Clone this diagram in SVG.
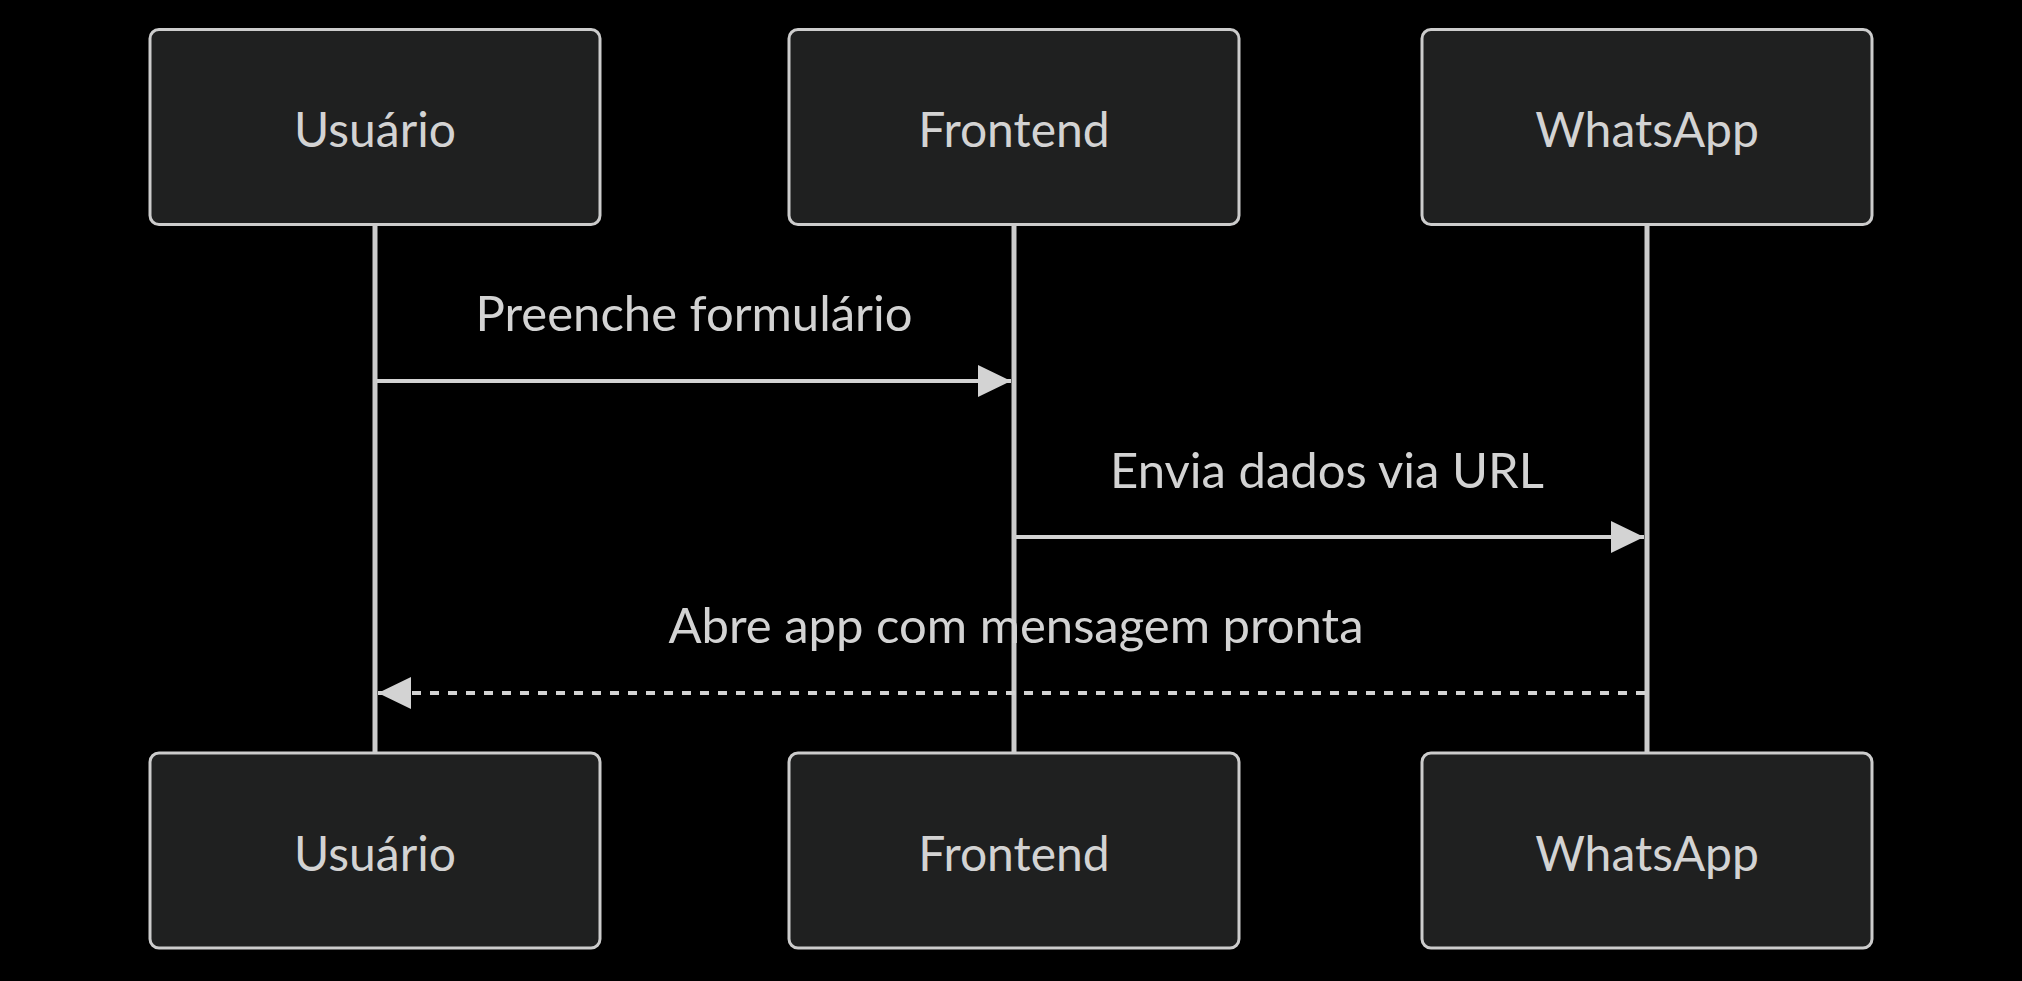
<svg xmlns="http://www.w3.org/2000/svg" width="2022" height="981" viewBox="0 0 2022 981">
<style>
.actor{fill:#1f2020;stroke:#cccccc;stroke-width:3}
.atext{fill:#d3d3d3;font-family:Lato,"Open Sans",sans-serif;font-size:48px;text-anchor:middle;dominant-baseline:central}
.life{stroke:#cccccc;stroke-width:5;fill:none}
.msg{stroke:#d3d3d3;stroke-width:4;fill:none}
.dash{stroke-dasharray:9 9}
.mtext{fill:#d3d3d3;font-family:Lato,"Open Sans",sans-serif;font-size:49px;text-anchor:middle}
</style>
<defs>
<marker id="ah" viewBox="0 0 33 32" markerWidth="33" markerHeight="32" refX="33" refY="16" orient="auto-start-reverse" markerUnits="userSpaceOnUse">
<path d="M0,0 L33,16 L0,32 Z" fill="#d3d3d3"/>
</marker>
</defs>
<rect width="2022" height="981" fill="#000000"/>
<g id="lifelines">
<line class="life" x1="375" y1="224" x2="375" y2="753"/>
<line class="life" x1="1014" y1="224" x2="1014" y2="753"/>
<line class="life" x1="1647" y1="224" x2="1647" y2="753"/>
</g>
<g id="actor-usuario-top"><rect class="actor" x="150" y="29.5" width="450" height="195" rx="9"/><text class="atext" x="375" y="128">Usuário</text></g>
<g id="actor-frontend-top"><rect class="actor" x="789" y="29.5" width="450" height="195" rx="9"/><text class="atext" x="1014" y="128">Frontend</text></g>
<g id="actor-whatsapp-top"><rect class="actor" x="1422" y="29.5" width="450" height="195" rx="9"/><text class="atext" x="1647" y="128">WhatsApp</text></g>
<g id="actor-usuario-bottom"><rect class="actor" x="150" y="753" width="450" height="195" rx="9"/><text class="atext" x="375" y="852">Usuário</text></g>
<g id="actor-frontend-bottom"><rect class="actor" x="789" y="753" width="450" height="195" rx="9"/><text class="atext" x="1014" y="852">Frontend</text></g>
<g id="actor-whatsapp-bottom"><rect class="actor" x="1422" y="753" width="450" height="195" rx="9"/><text class="atext" x="1647" y="852">WhatsApp</text></g>
<g id="connectors">
<line class="msg" x1="377" y1="381" x2="1011" y2="381" marker-end="url(#ah)"/>
<line class="msg" x1="1016" y1="537" x2="1644" y2="537" marker-end="url(#ah)"/>
<line class="msg dash" x1="1645" y1="693" x2="378" y2="693" marker-end="url(#ah)"/>
</g>
<g id="labels">
<text class="mtext" x="694" y="331">Preenche formulário</text>
<text class="mtext" x="1327" y="488">Envia dados via URL</text>
<text class="mtext" x="1016" y="643">Abre app com mensagem pronta</text>
</g>
</svg>
